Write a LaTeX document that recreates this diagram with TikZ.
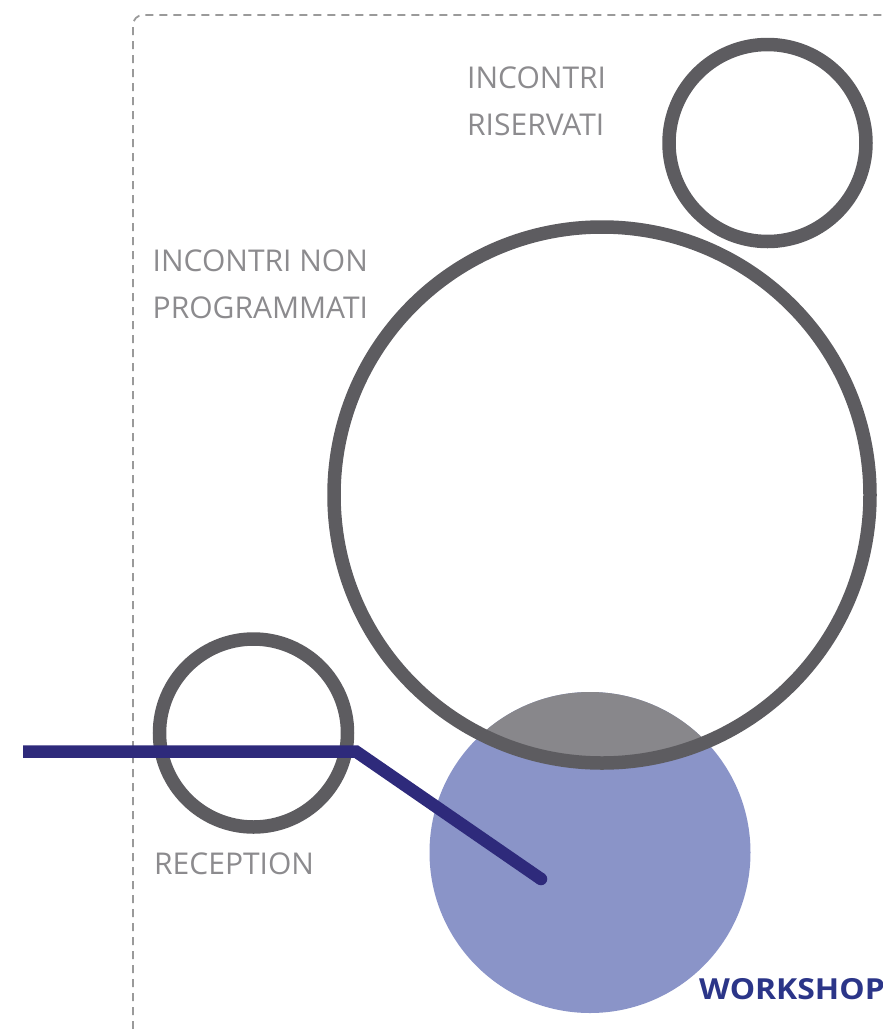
\documentclass[tikz,border=0pt]{standalone}
\usepackage{fontspec}
\newfontfamily\osans{Open Sans}
\newfontfamily\wsfont[FakeStretch=1.1]{Open Sans}
\definecolor{ringgray}{HTML}{5D5C60}
\definecolor{txtgray}{HTML}{8C8B8E}
\definecolor{wsfill}{HTML}{8A94C8}
\definecolor{lensgray}{HTML}{88878B}
\definecolor{routeblue}{HTML}{2E2A7B}
\definecolor{wsblue}{HTML}{2B3588}
\definecolor{dashgray}{HTML}{9A9A9A}
\tikzset{
  ring/.style={circle, draw=ringgray, line width=13.5pt, inner sep=0pt, fill=none},
  lbl/.style={anchor=north west, inner sep=0pt, align=left, text=txtgray,
    font=\osans\fontsize{30}{47}\selectfont},
  wslbl/.style={anchor=north west, inner sep=0pt, text=wsblue,
    font=\wsfont\bfseries\fontsize{29}{34}\selectfont},
  route/.style={draw=routeblue, line width=12.5pt, line join=miter},
  frame/.style={draw=dashgray, line width=1.8pt, dash pattern=on 8pt off 6pt}
}
\begin{document}
\begin{tikzpicture}[x=1pt,y=-1pt]
\useasboundingbox (0,0) rectangle (883,1029);
% dashed frame
\draw[frame] (133,1029) -- (133,25) arc[start angle=180, end angle=90, radius=10pt] -- (883,15);
% workshop disc and overlap lens
\fill[wsfill] (590,852.5) circle (160.5pt);
\begin{scope}
  \clip (590,852.5) circle (160.5pt);
  \fill[lensgray] (602,495) circle (268pt);
\end{scope}
\node[circle, minimum size=321pt, inner sep=0pt] (workshop) at (590,852.5) {};
% rings
\node[ring, minimum size=536pt] (nonprog) at (602,495) {};
\node[ring, minimum size=197pt] (riservati) at (767.5,143) {};
\node[ring, minimum size=188pt] (reception) at (253.5,733) {};
% labels
\node[lbl] (lriserv) at (467,67) {INCONTRI\\RISERVATI};
\node[lbl] (lnonprog) at (152.5,250) {INCONTRI NON\\PROGRAMMATI};
\node[lbl] (lrecep) at (154,853) {RECEPTION};
\node[wslbl] (lws) at (699,978) {WORKSHOP};
% route
\coordinate (start) at (23,751.5);
\coordinate (bend) at (356,751.5);
\coordinate (stop) at (541,879);
\draw[route] (start) -- (bend) -- (stop);
\fill[routeblue] (stop) circle (6.25pt);
\end{tikzpicture}
\end{document}
